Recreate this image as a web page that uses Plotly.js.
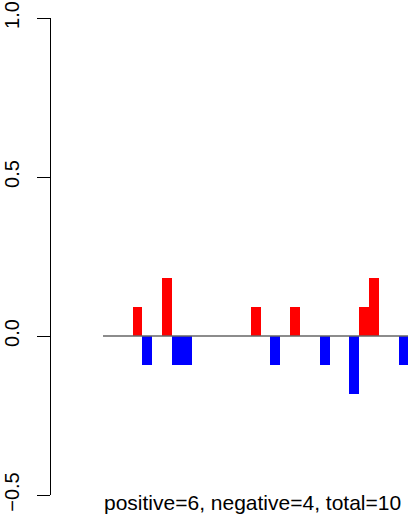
<!DOCTYPE html>
<html>
<head>
<meta charset="utf-8">
<script src="https://cdn.plot.ly/plotly-3.0.1.min.js"></script>
<style>html,body{margin:0;padding:0;background:#fff;}#chart{width:408px;height:521px;}</style>
</head>
<body>
<div id="chart"></div>
<script>
// Data
const posX = [4, 7, 16, 20, 27, 28];
const posY = [0.091, 0.182, 0.091, 0.091, 0.091, 0.182];
const negX = [5, 8, 9, 18, 23, 26, 31];
const negY = [-0.091, -0.091, -0.091, -0.091, -0.091, -0.182, -0.091];
const baselineX = [0.5, 31.5];
const baselineY = [0, 0];
const yTickVals = [-0.5, 0, 0.5, 1];
const yTickText = ["\u22120.5", "0.0", "0.5", "1.0"];
const summary = "positive=6, negative=4, total=10";

const font = "Liberation Sans, Arial, Helvetica, sans-serif";

const traces = [
  {type: "scatter", mode: "lines", x: baselineX, y: baselineY,
   line: {color: "#666666", width: 1.5}, hoverinfo: "skip", showlegend: false},
  {type: "bar", x: posX, y: posY, width: 1,
   marker: {color: "#FF0000", line: {width: 0}}, showlegend: false},
  {type: "bar", x: negX, y: negY, width: 1,
   marker: {color: "#0000FF", line: {width: 0}}, showlegend: false}
];

const layout = {
  width: 408, height: 521,
  margin: {l: 51, r: 0, t: 18, b: 26, pad: 0},
  paper_bgcolor: "#ffffff", plot_bgcolor: "#ffffff",
  barmode: "overlay", bargap: 0,
  showlegend: false,
  font: {family: font, size: 20, color: "#000000"},
  xaxis: {visible: false, range: [-4.78, 31.46], fixedrange: true},
  yaxis: {
    range: [-0.5, 1.0], tickmode: "array", tickvals: yTickVals, ticktext: yTickText,
    tickangle: -90, showline: true, linecolor: "#000000", linewidth: 1,
    ticks: "outside", ticklen: 13, tickwidth: 1, tickcolor: "#000000",
    showgrid: false, zeroline: false, ticklabelstandoff: 10,
    tickfont: {family: font, size: 20, color: "#000000"}
  },
  annotations: [{
    text: summary, xref: "paper", yref: "paper",
    x: 0.5644, y: -0.016, xanchor: "center", yanchor: "middle",
    showarrow: false, font: {family: font, size: 21, color: "#000000"}
  }]
};

Plotly.newPlot("chart", traces, layout, {displayModeBar: false, staticPlot: true});
</script>
</body>
</html>
